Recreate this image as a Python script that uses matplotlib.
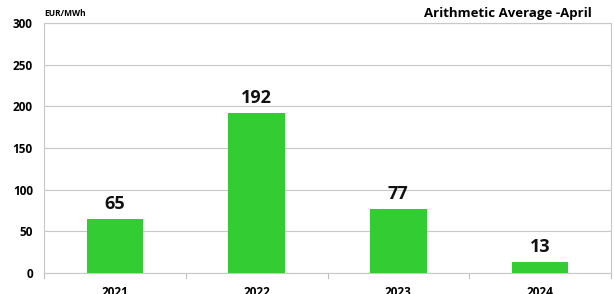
import matplotlib
matplotlib.use("Agg")
import matplotlib.pyplot as plt

years = ["2021", "2022", "2023", "2024"]
values = [65, 192, 77, 13]
yticks = [0, 50, 100, 150, 200, 250, 300]

plt.rcParams['font.family'] = ['Open Sans', 'DejaVu Sans']

fig = plt.figure(figsize=(6.15, 2.94), dpi=100)
ax = fig.add_axes([44/615, 1-273/294, (611-44)/615, (273-23)/294])

x = range(len(years))
ax.bar(x, values, width=0.4, color="#33CC33", zorder=3)
for xi, v in zip(x, values):
    ax.text(xi, v + 7, str(v), ha="center", va="bottom", fontsize=13,
            fontweight="bold", color="#111111")

ax.set_xlim(-0.5, len(years) - 0.5)
ax.set_ylim(0, 300)
ax.set_yticks(yticks)
ax.set_yticklabels([str(t) for t in yticks], fontsize=8.5, fontweight="bold")
ax.set_xticks(list(x))
ax.set_xticklabels(years, fontsize=8.5, fontweight="bold")
ax.tick_params(axis="y", length=0, pad=8)
ax.tick_params(axis="x", length=0, pad=9)
# category separator ticks
for b in [-0.5, 0.5, 1.5, 2.5, 3.5]:
    ax.plot([b, b], [0, -6], color="#bfbfbf", lw=0.8, clip_on=False,
            transform=ax.transData)
ax.grid(axis="y", color="#c8c8c8", lw=0.8, zorder=0)
for s in ax.spines.values():
    s.set_color("#c8c8c8")
    s.set_linewidth(0.8)

fig.text(44/615, 1-14/294, "EUR/MWh", fontsize=6, fontweight="bold",
         va="center", ha="left")
fig.text(592/615, 1-14/294, "Arithmetic Average -April", fontsize=9.5,
         fontweight="bold", va="center", ha="right")

fig.savefig("out.png", dpi=100)
